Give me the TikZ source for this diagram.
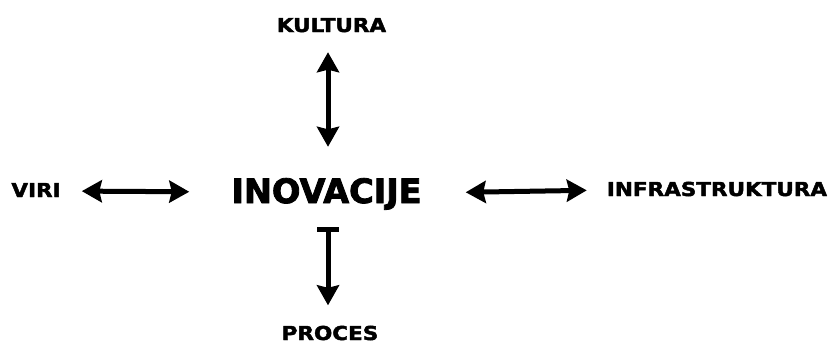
\documentclass[tikz,border=0pt]{standalone}
\usepackage{fontspec}
\usetikzlibrary{arrows.meta}
\newfontfamily\labfont[FakeStretch=1.12,FakeBold=2.2]{DejaVu Sans}
\newfontfamily\mainlabfont[FakeBold=2.5]{DejaVu Sans}
\begin{document}
\begin{tikzpicture}[x=1pt,y=-1pt,
  >={Stealth[length=20pt,width=22pt,inset=2.5pt]},
  lab/.style={inner sep=0pt, text height=14pt, text depth=0pt,
    font=\labfont\bfseries\fontsize{19.2}{20}\selectfont},
  core/.style={inner sep=0pt, text height=25pt, text depth=0pt,
    font=\mainlabfont\bfseries\fontsize{33.5}{36}\selectfont},
  arr/.style={line width=5pt, <->},
  arrbar/.style={line width=5pt, {Bar[width=22pt,line width=5pt]}->}]
\useasboundingbox[fill=white] (0,0) rectangle (833,343);

\node[core] (inov) at (326.5,190.5) {INOVACIJE};
\node[lab] (kultura) at (331.5,25) {KULTURA};
\node[lab] (viri) at (36,190) {VIRI};
\node[lab] (infra) at (717,189) {INFRASTRUKTURA};
\node[lab] (proces) at (330,333) {PROCES};

% links from the centre outwards
\draw[arr, shorten <=31pt, shorten >=20pt]
  ([xshift=1.5pt]inov.north) -- ([xshift=-3.5pt]kultura.south);
\draw[arrbar, shorten <=24pt, shorten >=20pt]
  ([xshift=1.5pt]inov.south) -- ([xshift=-2pt,yshift=0.5pt]proces.north);
\draw[arr, shorten <=42pt, shorten >=21pt]
  ([yshift=-1.5pt]inov.west) -- ([yshift=-1pt]viri.east);
\draw[arr, shorten <=44pt, shorten >=20pt]
  ([yshift=-2.5pt]inov.east) -- ([yshift=-1pt]infra.west);
\end{tikzpicture}
\end{document}
